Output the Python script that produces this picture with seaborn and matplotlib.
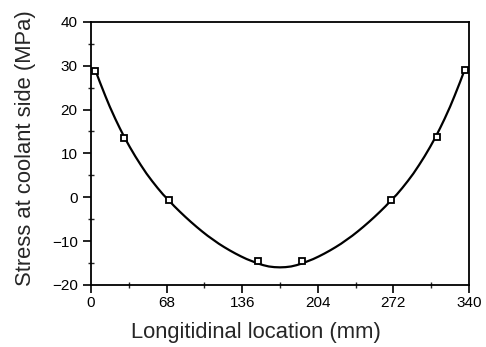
import numpy as np
import pandas as pd
import matplotlib
matplotlib.use('Agg')
import matplotlib.pyplot as plt
import seaborn as sns
from matplotlib.ticker import MultipleLocator

# measured points (squares)
loc_pts = [4, 30, 70, 150, 190, 270, 311, 336]
stress_pts = [28.8, 13.6, -0.6, -14.5, -14.5, -0.6, 13.7, 29.0]

# smooth curve
loc_curve = [4, 8, 13, 17, 22, 26, 30, 35, 40, 45, 50, 55, 60, 65, 70, 75, 80, 85, 90, 95,
             100, 105, 110, 115, 120, 125, 130, 135, 140, 145, 150, 155, 160, 165, 170,
             175, 180, 185, 190, 195, 200, 205, 210, 215, 220, 225, 230, 235, 240, 245,
             250, 255, 260, 265, 270, 275, 280, 285, 290, 295, 300, 305, 310, 314, 318,
             323, 327, 332, 336]
stress_curve = [29.0, 26.3, 23.1, 20.65, 17.85, 15.75, 13.75, 11.45, 9.3, 7.3, 5.4, 3.7, 2.1, 0.6,
                -0.7, -2.05, -3.3, -4.5, -5.65, -6.75, -7.8, -8.8, -9.7, -10.6, -11.4, -12.15,
                -12.85, -13.5, -14.1, -14.6, -15.1, -15.5, -15.8, -15.95, -16.0,
                -15.95, -15.8, -15.5, -15.1, -14.6, -14.1, -13.5, -12.85, -12.15, -11.4, -10.6,
                -9.7, -8.8, -7.8, -6.75, -5.65, -4.5, -3.3, -2.05, -0.7, 0.6, 2.1, 3.7, 5.4,
                7.3, 9.3, 11.45, 13.75, 15.75, 17.85, 20.65, 23.1, 26.3, 29.0]

xticks = [0, 68, 136, 204, 272, 340]
yticks = [-20, -10, 0, 10, 20, 30, 40]

sns.set_style("ticks")
plt.rcParams['font.family'] = ['Liberation Sans', 'DejaVu Sans']

df_curve = pd.DataFrame({'loc': loc_curve, 'stress': stress_curve})
df_pts = pd.DataFrame({'loc': loc_pts, 'stress': stress_pts})

fig = plt.figure(figsize=(4.86, 3.47), dpi=100)
ax = fig.add_axes([0.187, 0.179, 0.778, 0.758])

sns.lineplot(data=df_curve, x='loc', y='stress', color='black', linewidth=1.6, ax=ax, sort=False)
ax.plot(df_pts['loc'], df_pts['stress'], linestyle='none', marker='s', markersize=5,
        markerfacecolor='white', markeredgecolor='black', markeredgewidth=1.3)

ax.set_xlim(0, 340)
ax.set_ylim(-20, 40)
ax.set_xticks(xticks)
ax.set_yticks(yticks)
ax.xaxis.set_minor_locator(MultipleLocator(34))
ax.yaxis.set_minor_locator(MultipleLocator(5))
ax.tick_params(which='major', direction='out', length=6, width=1.2, labelsize=11, colors='black')
ax.tick_params(axis='x', which='major', pad=2)
ax.tick_params(which='minor', direction='inout', length=5, width=1.0)
ax.tick_params(top=False, right=False)

for s in ax.spines.values():
    s.set_visible(True)
    s.set_linewidth(1.3)
    s.set_color('black')

ax.set_xlabel('Longitidinal location (mm)', fontsize=15.8)
ax.set_ylabel('Stress at coolant side (MPa)', fontsize=15.8)
ax.xaxis.set_label_coords(0.437, -0.14)
ax.yaxis.set_label_coords(-0.145, 0.519)

fig.savefig('out.png', dpi=100)
